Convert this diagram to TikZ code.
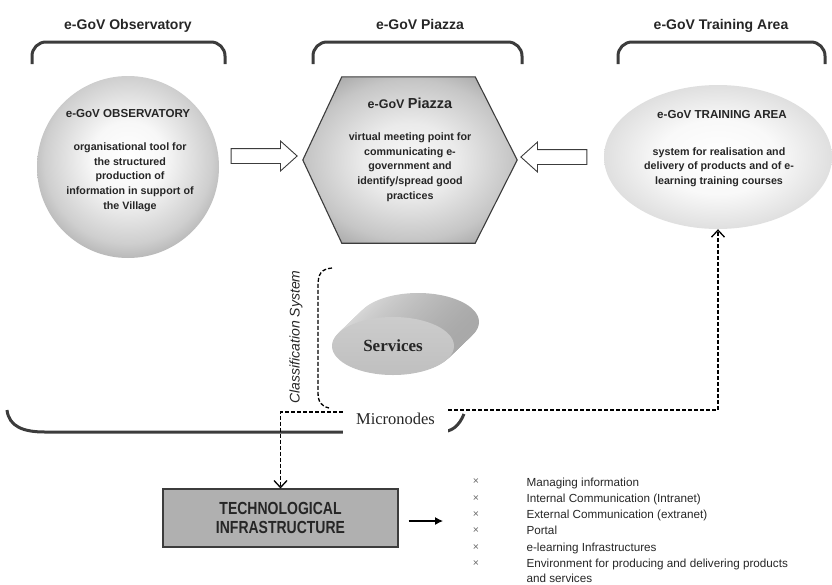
\documentclass[tikz,border=0pt]{standalone}
\usepackage{fontspec}
\setmainfont{Liberation Sans}
\newfontfamily\serifface{Liberation Serif}
\newfontfamily\condface[FakeStretch=0.8]{Liberation Sans}
\usetikzlibrary{shapes.geometric,shapes.arrows,arrows.meta,calc}
\definecolor{brk}{HTML}{3C3C3C}
\definecolor{ink}{HTML}{262626}
\pgfdeclareradialshading{obsshade}{\pgfpoint{0bp}{3bp}}{color(0bp)=(white); color(10bp)=(gray!6); color(23bp)=(gray!38); color(33bp)=(gray!82); color(36bp)=(gray!92); color(70bp)=(gray!92)}
\pgfdeclareradialshading{hexshade}{\pgfpoint{0bp}{0bp}}{color(0bp)=(gray!6); color(11bp)=(gray!16); color(24bp)=(gray!45); color(35bp)=(gray!85); color(75bp)=(gray!85)}
\pgfdeclareradialshading{trshade}{\pgfpoint{0bp}{0bp}}{color(0bp)=(white); color(13bp)=(gray!5); color(25bp)=(gray!25); color(35bp)=(gray!58); color(70bp)=(gray!58)}
\tikzset{
  bracketline/.style={draw=brk, line width=3pt, rounded corners=14pt},
  titletxt/.style={font=\fontsize{14}{16}\selectfont\bfseries, anchor=base, text=ink},
  headtxt/.style={font=\fontsize{11.6}{14}\selectfont\bfseries, text=ink},
  bodytxt/.style={font=\fontsize{10.7}{14.7}\selectfont\bfseries, align=center, text=ink},
  hollow/.style={single arrow, draw=brk, fill=white, line width=0.9pt, inner sep=0pt,
    minimum height=66pt, single arrow head extend=7.5pt, single arrow tip angle=84},
  dsh/.style={line width=1.3pt, dash pattern=on 4pt off 2pt},
  barb/.style={-{Straight Barb[length=7pt,width=13pt]}},
  listtxt/.style={font=\fontsize{11.7}{14}\selectfont, anchor=base west, text=ink},
  bul/.style={font=\fontsize{10.5}{10.5}\selectfont, text=black!60},
}
\begin{document}
\begin{tikzpicture}[x=1pt,y=-1pt]
\useasboundingbox (0,0) rectangle (832,584);
\clip (0,0) rectangle (832,584);

% titles and brackets
\node[titletxt] (t1) at (128,29) {e-GoV Observatory};
\node[titletxt] (t2) at (420,29) {e-GoV Piazza};
\node[titletxt] (t3) at (721,29) {e-GoV Training Area};
\draw[bracketline] (32,64) -- (32,42) -- (225,42) -- (225,64);
\draw[bracketline] (313,64) -- (313,42) -- (522,42) -- (522,64);
\draw[bracketline] (618,64) -- (618,42) -- (825,42) -- (825,64);

% observatory
\node[circle, minimum size=182pt, inner sep=0pt, shade, shading=obsshade] (obs) at (128,167) {};
\node[headtxt] (obsh) at (128,114) {e-GoV OBSERVATORY};
\node[bodytxt] (obsb) at (130,177) {organisational tool for\\the structured\\production of\\information in support of\\the Village};

% piazza
\node[minimum width=214pt, minimum height=166pt, inner sep=0pt] (piazza) at (410,160) {};
\path[draw=brk, line width=1.1pt, shade, shading=hexshade]
  (piazza.west) -- ([xshift=39pt]piazza.north west) -- ([xshift=-42pt]piazza.north east)
  -- (piazza.east) -- ([xshift=-42pt]piazza.south east) -- ([xshift=39pt]piazza.south west) -- cycle;
\node[anchor=base, font=\bfseries, text=ink] (pzh) at (410,108) {\fontsize{12.5}{14}\selectfont e-GoV \fontsize{14.5}{16}\selectfont Piazza};
\node[bodytxt] (pzb) at (410,167) {virtual meeting point for\\communicating e-\\government and\\identify/spread good\\practices};

% training area
\node[ellipse, minimum width=228pt, minimum height=144pt, inner sep=0pt, shade, shading=trshade] (train) at (718,157) {};
\node[headtxt] (trh) at (722,115) {e-GoV TRAINING AREA};
\node[bodytxt] (trb) at (719,167) {system for realisation and\\delivery of products and of e-\\learning training courses};

% hollow arrows
\node[hollow] (arrL) at (260,156) {\rule{0pt}{14pt}};
\node[hollow, shape border rotate=180] (arrR) at (558,157) {\rule{0pt}{14pt}};

% services disk
\foreach \i in {0,...,24} {
  \pgfmathsetmacro\tt{1-\i/25}
  \path[left color=gray!28, right color=gray!68] (393+25*\tt, 346-24*\tt) ellipse[x radius=61pt, y radius=29pt];
}
\node[ellipse, minimum width=122pt, minimum height=58pt, inner sep=0pt, top color=gray!40, bottom color=gray!50,
  font=\serifface\bfseries\fontsize{17}{20}\selectfont, text=ink] (serv) at (393,346) {Services};

% classification system
\node[rotate=90, font=\itshape\fontsize{14}{16}\selectfont, text=ink] (cls) at (296,337) {Classification System};
\draw[dsh] (332,268) .. controls (321,269) and (318,274) .. (318,286) -- (318,392) .. controls (318,402) and (321,406) .. (329,408);

% big bottom bracket
\draw[draw=brk, line width=3pt] (7,410) .. controls (9,427) and (24,432) .. (45,432) -- (440,432) .. controls (452,432) and (459,426) .. (464,414);
\node[fill=white, minimum width=105pt, minimum height=32pt, inner sep=0pt, font=\serifface\fontsize{16.5}{18}\selectfont, text=ink] (micro) at (395.5,419) {Micronodes};

% technological infrastructure
\node[draw=brk, line width=1.1pt, fill=gray!62, minimum width=235pt, minimum height=58pt, inner sep=0pt, align=center,
  font=\condface\bfseries\fontsize{17.5}{19}\selectfont, text=ink] (tech) at (280.5,518) {TECHNOLOGICAL\\INFRASTRUCTURE};

% dashed connectors
\draw[dsh, barb] ([yshift=7pt]micro.west) -| (tech.north);
\draw[dsh, barb] ([yshift=9pt]micro.east) -| (train.south);

% list arrow
\coordinate (lst) at (443,521);
\draw[line width=1.1pt, -{Latex[length=8pt,width=8pt]}] ([xshift=10pt,yshift=-3pt]tech.east) -- (lst);

% list
\node[bul] (b1) at (476,482) {×};
\node[bul] (b2) at (476,499) {×};
\node[bul] (b3) at (476,515) {×};
\node[bul] (b4) at (476,531) {×};
\node[bul] (b5) at (476,548) {×};
\node[bul] (b6) at (476,564) {×};
\node[listtxt] (l1) at (523,486) {Managing information};
\node[listtxt] (l2) at (523,502.3) {Internal Communication (Intranet)};
\node[listtxt] (l3) at (523,518.6) {External Communication (extranet)};
\node[listtxt] (l4) at (523,534.9) {Portal};
\node[listtxt] (l5) at (523,551.2) {e-learning Infrastructures};
\node[listtxt] (l6) at (523,567.5) {Environment for producing and delivering products};
\node[listtxt] (l7) at (523,582.3) {and services};
\end{tikzpicture}
\end{document}
